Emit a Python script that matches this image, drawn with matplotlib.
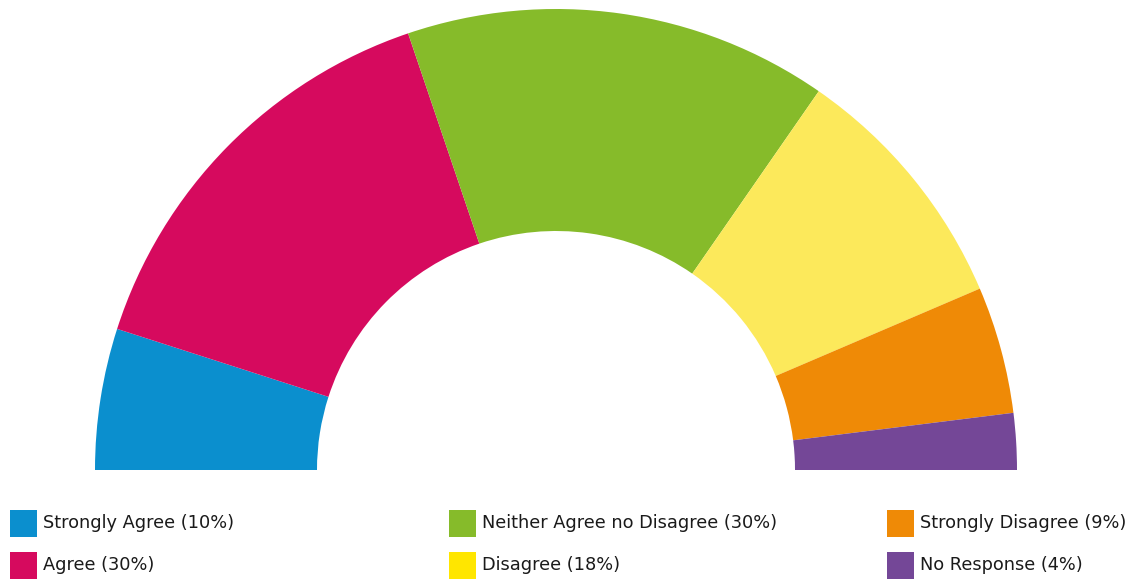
import matplotlib.pyplot as plt
from matplotlib.patches import Rectangle

labels = ['Strongly Agree (10%)', 'Agree (30%)', 'Neither Agree no Disagree (30%)',
          'Disagree (18%)', 'Strongly Disagree (9%)', 'No Response (4%)']
values = [10, 30, 30, 18, 9, 4]
slice_colors = ['#0B8FCE', '#D60A5E', '#86BB2A', '#FCE95B', '#EF8A06', '#744797']
legend_colors = ['#0B8FCE', '#D60A5E', '#86BB2A', '#FFE600', '#EF8A06', '#744797']

W, H = 1133, 580
fig = plt.figure(figsize=(W / 100, H / 100), dpi=100)
ax = fig.add_axes([0, 0, 1, 1])
ax.set_xlim(0, W); ax.set_ylim(0, H)
ax.axis('off')

# half donut: add an invisible wedge equal to the total
cx, cy = 556, H - 470
r_out, r_in = 461, 239
ax.pie(values + [sum(values)], colors=slice_colors + ['none'],
       startangle=180, counterclock=False, radius=r_out, center=(cx, cy),
       wedgeprops=dict(width=r_out - r_in, linewidth=0))
ax.set_xlim(0, W); ax.set_ylim(0, H)

# legend, 3 columns x 2 rows
col_x = [10, 449, 887]
row_y = [H - 537, H - 579]
box = 27
for i, (lab, c) in enumerate(zip(labels, legend_colors)):
    x = col_x[i // 2]; y = row_y[i % 2]
    ax.add_patch(Rectangle((x, y), box, box, color=c, lw=0))
    ax.text(x + box + 6, y + box / 2, lab, fontsize=12.8, va='center', ha='left',
            color='#1a1a1a', family='DejaVu Sans')

fig.savefig('out.png', dpi=100)
